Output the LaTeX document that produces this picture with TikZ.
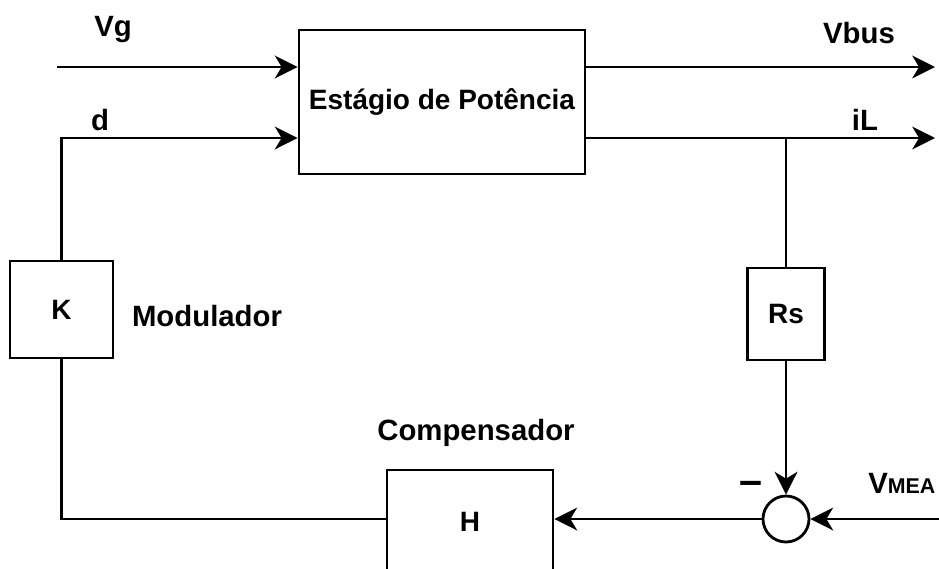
\documentclass[tikz,border=0pt]{standalone}
\usepackage{fontspec}
\setmainfont{Liberation Sans}
\usetikzlibrary{arrows.meta,positioning}

\tikzset{
  blk/.style={draw, line width=2.1pt, inner sep=0pt, font=\bfseries\fontsize{21}{25}\selectfont},
  lbl/.style={inner sep=0pt, font=\bfseries\fontsize{22}{26}\selectfont},
  wire/.style={line width=2.1pt},
  sig/.style={wire, -{Stealth[length=17pt,width=17pt,inset=5pt]}},
}

\begin{document}
\begin{tikzpicture}[x=0.75pt,y=-0.75pt]
\useasboundingbox (0,0) rectangle (939,568);
\clip (0,0) rectangle (939,568);

% blocks
\node[blk, minimum width=214.5pt, minimum height=108pt] (pot) at (442,102) {Estágio de Potência};
\node[blk, minimum width=57.75pt, minimum height=69pt] (rs) at (786,314) {Rs};
\node[blk, minimum width=77.25pt, minimum height=72.75pt] (k) at (61.5,309.5) {K};
\node[blk, minimum width=124.5pt, minimum height=78pt] (h) at (470,522) {H};
\node[draw, circle, line width=2.1pt, minimum size=34.5pt, inner sep=0pt] (sum) at (786,519) {};

\coordinate (vgin) at (57,67);
\coordinate (vbus) at (935,67);
\coordinate (il) at (935,138);
\coordinate (vmeas) at (939,519);
\coordinate (tap) at (rs.north |- il);

% labels
\node[lbl] (lvg) at (113,30) {Vg};
\node[lbl] (ld) at (100,120) {d};
\node[lbl] (lvbus) at (859,33) {Vbus};
\node[lbl] (lil) at (865,120) {iL};
\node[lbl] (lmod) at (207,316) {Modulador};
\node[lbl] (lcomp) at (476,433) {Compensador};
\node[inner sep=0pt, font=\bfseries\fontsize{31}{33}\selectfont] (lminus) at (751,488) {\textendash};
\node[lbl, anchor=west] (lvmeas) at (868,483) {V{\fontsize{16}{20}\selectfont MEA}};

% connections
\draw[sig] (vgin) -- (pot.west |- vgin);
\draw[sig] (pot.east |- vgin) -- (vbus);
\draw[sig] (pot.east |- il) -- (il);
\draw[sig] (k.north) |- (pot.west |- il);
\draw[wire] (h.west |- sum) -| (k.south);
\draw[wire] (tap) -- (rs.north);
\draw[sig] (rs.south) -- (sum.north);
\draw[sig] (vmeas) -- (sum.east);
\draw[sig] (sum.west) -- (sum.west -| h.east);
\end{tikzpicture}
\end{document}
